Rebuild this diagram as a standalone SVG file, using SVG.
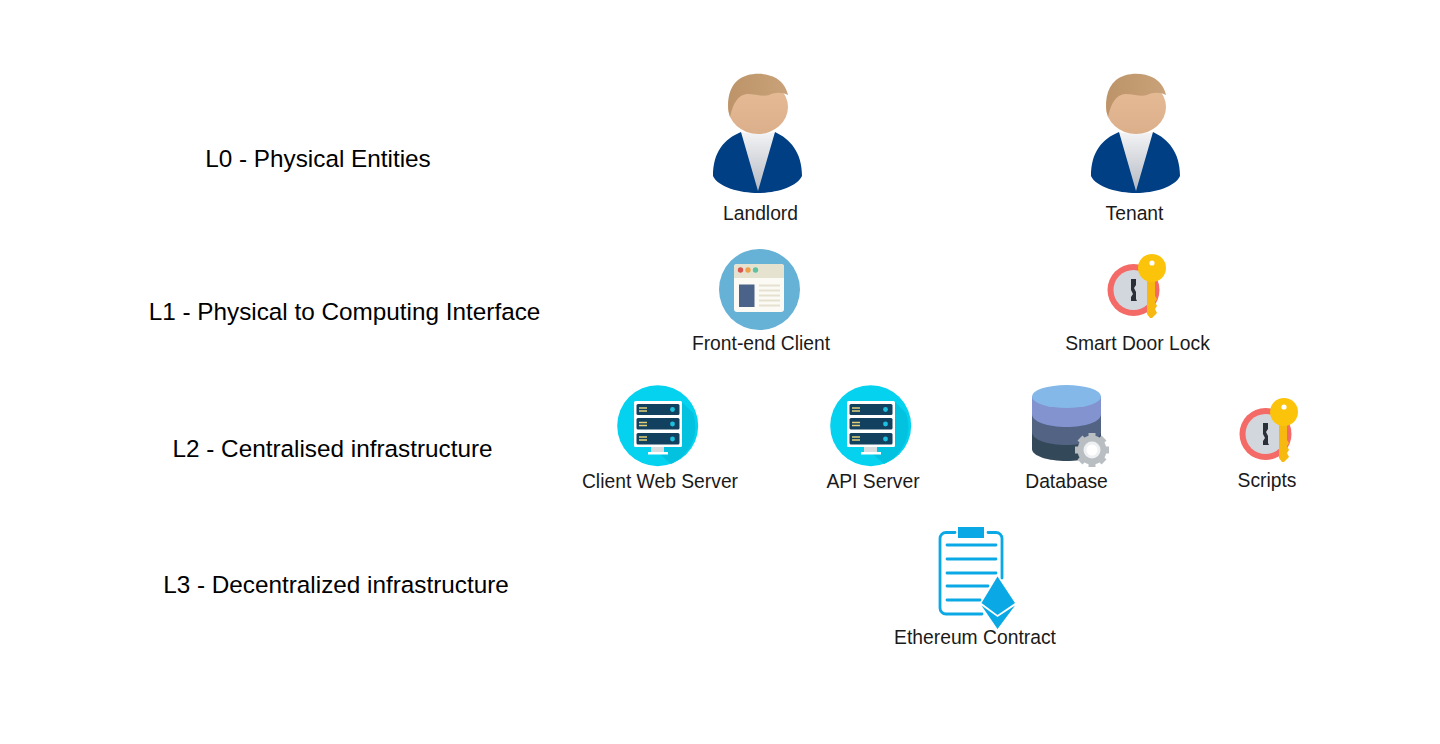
<svg xmlns="http://www.w3.org/2000/svg" width="1440" height="744" viewBox="0 0 1440 744">
<style>
text{font-family:"Liberation Sans",Arial,sans-serif;fill:#000;text-anchor:middle}
.lvl{font-size:24.3px}
.lab{font-size:19.3px;fill:#1a1a1a}
.bar{fill:#12405f}
.led{fill:#1cc1e0}
.sl{stroke:#e3cf7a;stroke-width:1.6;fill:none}
.ln{stroke:#e6e1cf;stroke-width:2}
.cl{stroke:#0aa9e6;stroke-width:2.8;fill:none;stroke-linecap:round}
</style>
<defs>
<linearGradient id="shirt" x1="0" y1="0" x2="0" y2="1"><stop offset="0" stop-color="#f4f4f6"/><stop offset="1" stop-color="#b4b9c2"/></linearGradient>
<linearGradient id="face" x1="0" y1="0" x2="0" y2="1"><stop offset="0" stop-color="#e6bd97"/><stop offset="1" stop-color="#dcaf8b"/></linearGradient>
<linearGradient id="hair" x1="0" y1="0" x2="1" y2="0"><stop offset="0" stop-color="#bd9469"/><stop offset="1" stop-color="#c9a279"/></linearGradient>
<g id="person">
<path d="M741 132C724 139 713 152 713 176C718 187 740 193 758 193C776 193 797 187 802 176C802 152 790 139 775 132L758 150Z" fill="#003f83"/>
<path d="M741 132C750 134 766 134 775 132L758 191Z" fill="url(#shirt)"/>
<ellipse cx="758" cy="107" rx="30" ry="27" fill="url(#face)"/>
<path d="M730 117C726 105 728 88 738 80C748 72 765 72 776 78C784 83 787 90 788 95C782 92 775 92 769 95C763 97 755 94 747 94C738 95 733 103 730 117Z" fill="url(#hair)"/>
</g>
<g id="lock">
<circle cx="1133.5" cy="290" r="26" fill="#f36a66"/>
<circle cx="1133.5" cy="290" r="20" fill="#d2d7de"/>
<path d="M1131 279H1136V285L1134 288L1136 292V299L1137 301H1131V297L1133 294L1131 290Z" fill="#2b3038"/>
<path d="M1147 276H1155V296L1157 299L1155 302L1157 306L1155 309L1157 313L1152 318H1150L1147 314Z" fill="#f7b90f"/>
<circle cx="1152" cy="268" r="14" fill="#fcc30b"/>
<circle cx="1152" cy="263" r="2.6" fill="#fff"/>
</g>
<g id="server">
<circle cx="657.7" cy="425.7" r="40.5" fill="#04d2ef"/>
<path d="M682 402L693 413A40.5 40.5 0 0 1 671 464L652 447H682Z" fill="#03c2df"/>
<rect x="634" y="401" width="48" height="46" rx="1.5" fill="#fff"/>
<rect x="651" y="447" width="13" height="6" fill="#d8dde0"/>
<rect x="648" y="452" width="20" height="2.5" fill="#fff"/>
<rect x="636.5" y="404" width="43" height="11" rx="1.5" class="bar"/>
<rect x="636.5" y="418" width="43" height="11.5" rx="1.5" class="bar"/>
<rect x="636.5" y="433" width="43" height="11.5" rx="1.5" class="bar"/>
<circle cx="672.5" cy="409.5" r="2.4" class="led"/>
<circle cx="672.5" cy="424" r="2.4" class="led"/>
<circle cx="672.5" cy="439" r="2.4" class="led"/>
<path d="M639 408H647M639 411H647M639 422.500H647M639 425.500H647M639 437H647M639 440H647" class="sl"/>
</g>
</defs>

<g id="level-labels">
<text class="lvl" x="318" y="167">L0 - Physical Entities</text>
<text class="lvl" x="344.500" y="320">L1 - Physical to Computing Interface</text>
<text class="lvl" x="332.500" y="457">L2 - Centralised infrastructure</text>
<text class="lvl" x="336" y="593">L3 - Decentralized infrastructure</text>
</g>

<g id="connectors"></g>

<g id="landlord">
<use href="#person"/>
<text class="lab" x="760.500" y="220">Landlord</text>
</g>
<g id="tenant">
<use href="#person" transform="translate(378 0)"/>
<text class="lab" x="1134.500" y="220">Tenant</text>
</g>
<g id="front-end-client">
<circle cx="759.500" cy="289.500" r="40.500" fill="#66b1d6"/>
<rect x="734" y="264" width="50" height="48" rx="3" fill="#fbfaf5"/>
<path d="M734 278V267A3 3 0 0 1 737 264H781A3 3 0 0 1 784 267V278Z" fill="#e6e2d0"/>
<circle cx="740.500" cy="270" r="2.700" fill="#d9534f"/>
<circle cx="748" cy="270" r="2.700" fill="#eda14c"/>
<circle cx="755.500" cy="270" r="2.700" fill="#5cc2a0"/>
<rect x="739" y="284.500" width="15.500" height="22.500" fill="#4b6388"/>
<path d="M759 285.500H780M759 290.500H780M759 295.500H780M759 300.500H780M759 305.500H780" class="ln"/>
<text class="lab" x="761" y="350">Front-end Client</text>
</g>
<g id="smart-door-lock">
<use href="#lock"/>
<text class="lab" x="1137.500" y="350">Smart Door Lock</text>
</g>
<g id="client-web-server">
<use href="#server"/>
<text class="lab" x="660" y="488">Client Web Server</text>
</g>
<g id="api-server">
<use href="#server" transform="translate(213 0)"/>
<text class="lab" x="873" y="488">API Server</text>
</g>
<g id="database">
<path d="M1032 396V449C1032 456 1048 461 1066.500 461C1085 461 1101 456 1101 449V396Z" fill="#33495a"/>
<path d="M1032 396V432C1032 440 1048 445 1066.500 445C1085 445 1101 440 1101 432V396Z" fill="#536384"/>
<path d="M1032 396V414C1032 422 1048 427 1066.500 427C1085 427 1101 422 1101 414V396Z" fill="#8293cf"/>
<ellipse cx="1066.500" cy="396.500" rx="34.500" ry="11.500" fill="#84b8e8"/>
<circle cx="1092" cy="450" r="14.500" fill="#b9bec3"/>
<path d="M1092 433V467M1075 450H1109M1080 438L1104 462M1104 438L1080 462" stroke="#b9bec3" stroke-width="7"/>
<circle cx="1092" cy="450" r="8.500" fill="#eef0f2"/>
<circle cx="1092" cy="450" r="5.500" fill="#fff"/>
<text class="lab" x="1066.500" y="488">Database</text>
</g>
<g id="scripts">
<use href="#lock" transform="translate(132 144)"/>
<text class="lab" x="1267" y="487">Scripts</text>
</g>
<g id="ethereum-contract">
<path d="M955 532.500H946A6 6 0 0 0 940 538.500V608A6 6 0 0 0 946 614H982M988 532.500H996A6 6 0 0 1 1002 538.500V578" class="cl"/>
<rect x="958" y="527" width="26" height="11" fill="#0aa9e6"/>
<path d="M947 545H996M947 559H996M947 573H996M947 586H988M947 600H980" class="cl"/>
<path d="M997.500 576.500L1015 603L997.500 615L981.500 603Z" fill="#0aa9e6"/>
<path d="M981.500 605.500L997.500 617L1015 605.500L997.500 629Z" fill="#0aa9e6"/>
<text class="lab" x="975" y="644">Ethereum Contract</text>
</g>
</svg>
